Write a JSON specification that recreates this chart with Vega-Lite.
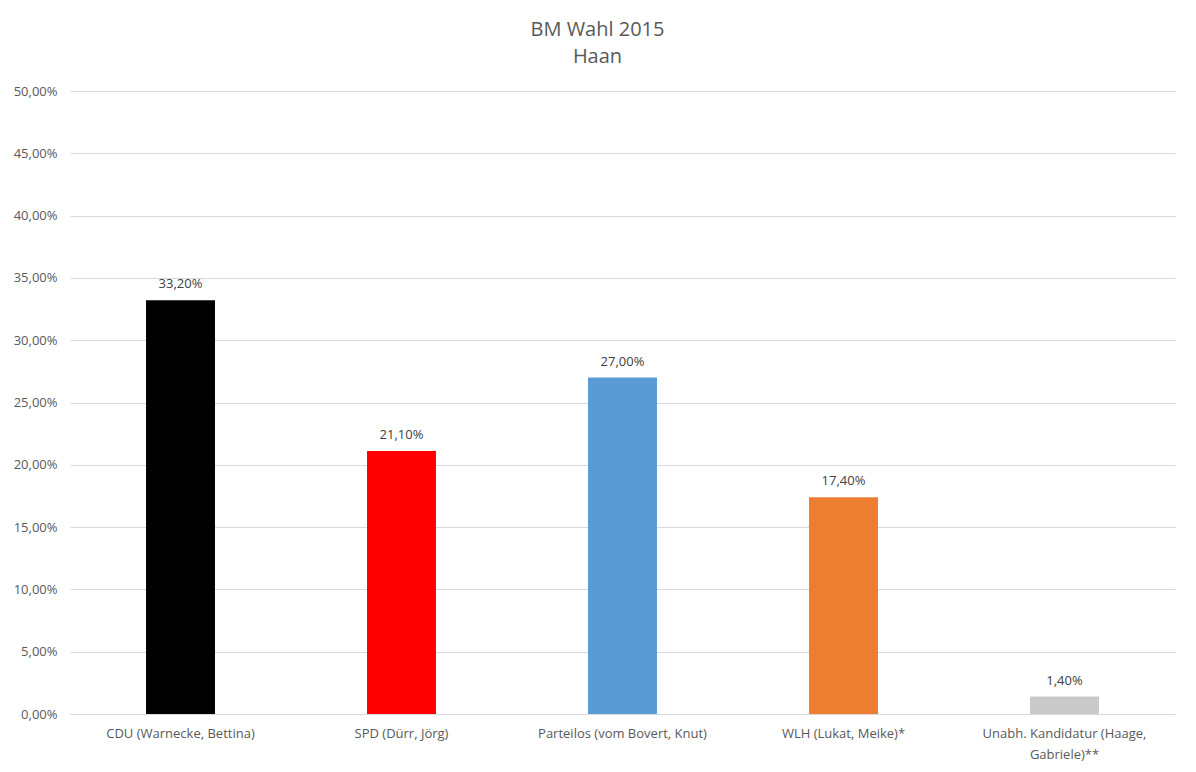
{
  "$schema": "https://vega.github.io/schema/vega-lite/v6.json",
  "background": "white",
  "autosize": "none",
  "padding": {"left": 70, "top": 91, "right": 21, "bottom": 58},
  "width": 1105,
  "height": 623,
  "config": {
    "font": "Open Sans",
    "view": {"stroke": null},
    "locale": {
      "number": {"decimal": ",", "thousands": ".", "grouping": [3], "currency": ["", " €"]}
    }
  },
  "title": {
    "text": ["BM Wahl 2015", "Haan"],
    "fontSize": 20,
    "fontWeight": "normal",
    "color": "#595959",
    "lineHeight": 27,
    "anchor": "middle",
    "dx": -25,
    "offset": 18
  },
  "data": {
    "values": [
      {"kandidat": "CDU (Warnecke, Bettina)", "anteil": 0.332},
      {"kandidat": "SPD (Dürr, Jörg)", "anteil": 0.211},
      {"kandidat": "Parteilos (vom Bovert, Knut)", "anteil": 0.27},
      {"kandidat": "WLH (Lukat, Meike)*", "anteil": 0.174},
      {"kandidat": "Unabh. Kandidatur (Haage, Gabriele)**", "anteil": 0.014}
    ]
  },
  "encoding": {
    "x": {
      "field": "kandidat",
      "type": "nominal",
      "sort": null,
      "title": null,
      "scale": {"paddingInner": 0.688, "paddingOuter": 0.344},
      "axis": {
        "labelAngle": 0,
        "labelFontSize": 13,
        "labelColor": "#595959",
        "labelPadding": 13,
        "labelLimit": 400,
        "labelLineHeight": 21,
        "labelExpr": "datum.label == 'Unabh. Kandidatur (Haage, Gabriele)**' ? ['Unabh. Kandidatur (Haage,', 'Gabriele)**'] : datum.label",
        "ticks": false,
        "domainColor": "#d9d9d9",
        "grid": false
      }
    },
    "y": {
      "field": "anteil",
      "type": "quantitative",
      "title": null,
      "scale": {"domain": [0, 0.5]},
      "axis": {
        "values": [0, 0.05, 0.1, 0.15, 0.2, 0.25, 0.3, 0.35, 0.4, 0.45, 0.5],
        "format": ".2%",
        "labelFontSize": 13,
        "labelColor": "#595959",
        "labelPadding": 13,
        "ticks": false,
        "domain": false,
        "gridColor": "#d9d9d9"
      }
    }
  },
  "layer": [
    {
      "mark": {"type": "bar"},
      "encoding": {
        "color": {
          "field": "kandidat",
          "type": "nominal",
          "legend": null,
          "scale": {
            "domain": [
              "CDU (Warnecke, Bettina)",
              "SPD (Dürr, Jörg)",
              "Parteilos (vom Bovert, Knut)",
              "WLH (Lukat, Meike)*",
              "Unabh. Kandidatur (Haage, Gabriele)**"
            ],
            "range": ["#000000", "#ff0000", "#5b9bd5", "#ed7d31", "#c9c9c9"]
          }
        }
      }
    },
    {
      "mark": {"type": "text", "baseline": "bottom", "dy": -9, "fontSize": 13, "color": "#404040"},
      "encoding": {
        "text": {"field": "anteil", "type": "quantitative", "format": ".2%"}
      }
    }
  ]
}
